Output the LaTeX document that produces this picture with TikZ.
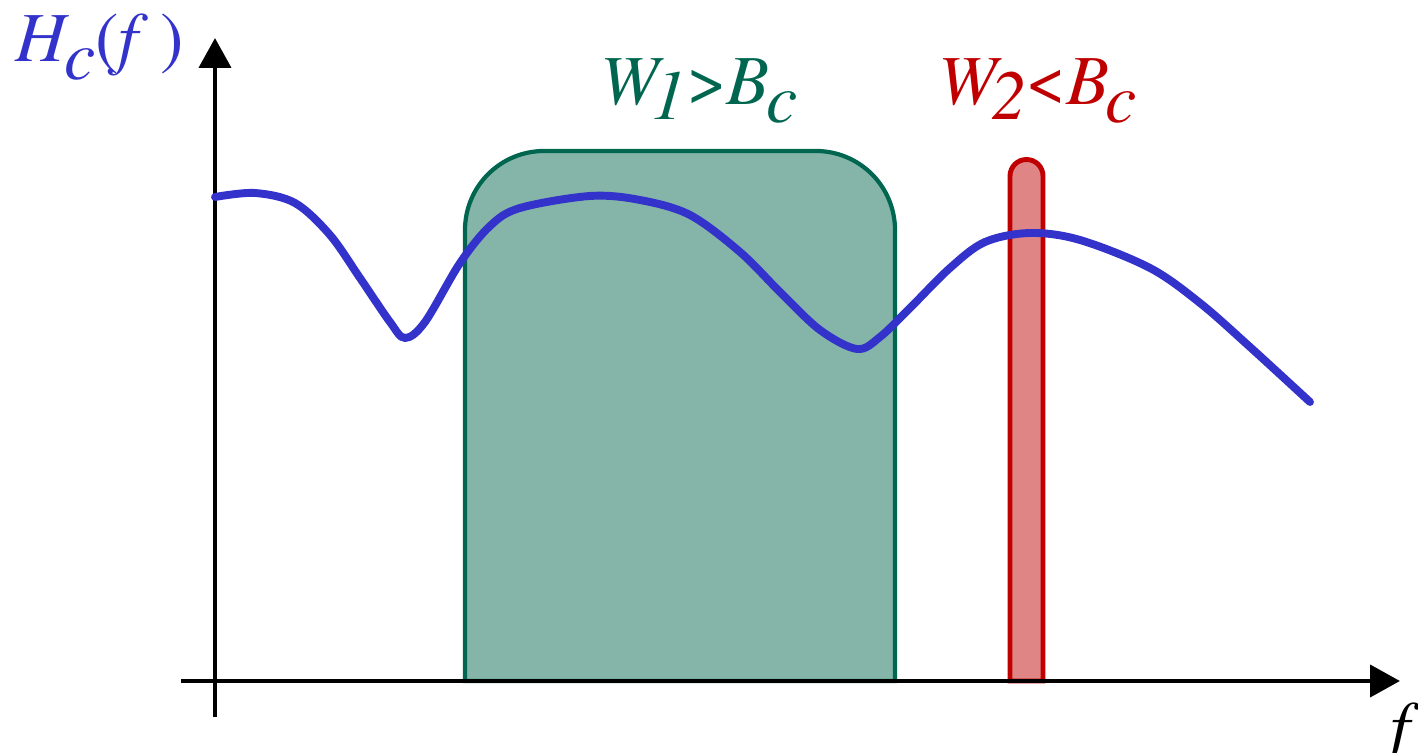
\documentclass[tikz,border=0pt]{standalone}
\usepackage{fontspec}
\setmainfont{texgyretermes}[Extension=.otf,UprightFont=*-regular,ItalicFont=*-italic,BoldFont=*-bold,BoldItalicFont=*-bolditalic]
\usetikzlibrary{arrows.meta}
\definecolor{cblue}{RGB}{51,51,204}
\definecolor{gdark}{RGB}{0,102,80}
\definecolor{gfill}{RGB}{132,181,168}
\definecolor{rdark}{RGB}{192,0,0}
\definecolor{rfill}{RGB}{224,133,133}
\tikzset{
  axis/.style={line width=2.8pt,-{Triangle[length=17pt,width=18pt]}},
  lbl/.style={anchor=base west,inner sep=0pt,font=\fontsize{40}{44}\selectfont},
  curve/.style={cblue,line width=4.5pt,line cap=round,line join=round}
}
\begin{document}
\begin{tikzpicture}[x=0.02cm,y=-0.02cm]
\useasboundingbox (0,0) rectangle (1418,753);
% green band
\draw[gdark,fill=gfill,line width=2.4pt] (465,681) [rounded corners=45pt] -- (465,151) -- (895,151) [sharp corners] -- (895,681) -- cycle;
% red band
\draw[rdark,fill=rfill,line width=2.8pt] (1010,681) -- (1010,176) arc[start angle=180,end angle=360,radius=16.5] -- (1043,681) -- cycle;
% axes
\coordinate (yb) at (215,717);
\coordinate (yt) at (215,38);
\coordinate (xl) at (181,681);
\coordinate (xr) at (1400,681);
\draw[axis] (yb) -- (yt);
\draw[axis] (xl) -- (xr);
% curve
\draw[curve] plot[smooth,tension=0.55] coordinates {
(215,197) (255,193) (295,203) (330,235) (360,278) (390,322) (405,338) (425,322) (460,263) (490,226) (520,208) (590,196) (640,200) (690,215) (740,252) (780,292) (820,330) (857,349) (880,337) (910,308) (950,268) (985,242) (1030,233) (1080,240) (1150,268) (1200,303) (1250,347) (1310,402)};
% labels
\node[lbl,text=cblue] (hc) at (15,62) {\itshape H\kern-1pt\raisebox{-10pt}{c}\upshape(\itshape f\/\upshape\,)};
\node[lbl,text=gdark] (w1) at (600,105) {\itshape W\kern-4pt\raisebox{-8.5pt}{1}\upshape>\itshape B\kern-2pt\raisebox{-10pt}{c}};
\node[lbl,text=rdark] (w2) at (938,105) {\itshape W\kern-3pt\raisebox{-8.5pt}{2}\upshape<\itshape B\kern-2pt\raisebox{-10pt}{c}};
\node[lbl] (fl) at (1390,750) {\itshape f};
\end{tikzpicture}
\end{document}
